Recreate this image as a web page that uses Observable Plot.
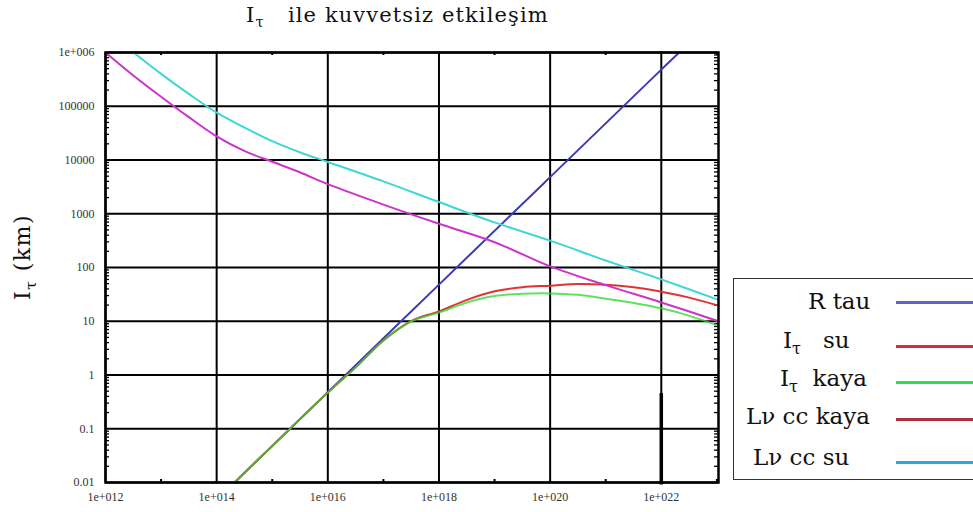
<!DOCTYPE html>
<html>
<head>
<meta charset="utf-8">
<script src="https://cdn.jsdelivr.net/npm/d3@7"></script>
<script src="https://cdn.jsdelivr.net/npm/@observablehq/plot@0.6"></script>
<style>
  html, body { margin: 0; padding: 0; background: #fff; }
  #wrap { position: relative; width: 973px; height: 512px; overflow: hidden; font-family: "DejaVu Serif", serif; color: #111; }
  #chart { position: absolute; left: 0; top: 0; }
  #title { position: absolute; left: 246px; top: 3px; font-size: 21px; letter-spacing: 1.1px; white-space: pre; }
  #ylabel { position: absolute; left: 25px; top: 257px; font-size: 22px; letter-spacing: 1.5px; white-space: pre;
            transform: translate(-50%, -50%) rotate(-90deg); transform-origin: center; }
  sub { font-size: 70%; vertical-align: -0.35em; }
  #legend { position: absolute; left: 733px; top: 278px; width: 260px; height: 202px;
            border: 1.5px solid #333; box-sizing: border-box; }
  .lg-text { position: absolute; font-size: 23px; white-space: pre; line-height: 1; }
  .lg-line { position: absolute; left: 162px; width: 100px; height: 3px; }
</style>
</head>
<body>
<div id="wrap">
  <div id="chart"></div>
  <div id="title">I<sub>τ</sub>   ile kuvvetsiz etkileşim</div>
  <div id="ylabel">I<sub>τ</sub> (km)</div>
  <div id="legend"></div>
</div>
<script>
// Axis ticks and their printed labels
const xTicks = [1e12, 1e14, 1e16, 1e18, 1e20, 1e22];
const xTickLabels = ["1e+012", "1e+014", "1e+016", "1e+018", "1e+020", "1e+022"];
const yTicks = [0.01, 0.1, 1, 10, 100, 1000, 10000, 100000, 1e6];
const yTickLabels = ["0.01", "0.1", "1", "10", "100", "1000", "10000", "100000", "1e+006"];

// R tau (km) versus energy
const rTauE = [2.1e14, 1e16, 1e18, 1e20, 1e22, 2.1e22];
const rTauV = [0.01, 0.48, 48, 4800, 480000, 1e6];

// I_tau in water
const iSuE = [2.1e14, 1e15, 1e16, 3.2e16, 1e17, 3.2e17, 1e18, 3.2e18, 1e19, 3.2e19, 1e20, 3.2e20, 1e21, 3.2e21, 1e22, 3.2e22, 1.07e23];
const iSuV = [0.01, 0.048, 0.47, 1.4, 4.4, 10.2, 15.3, 25, 36, 43, 46, 49.5, 48, 43, 35.5, 27.5, 19.5];

// I_tau in rock
const iKayaE = [2.1e14, 1e15, 1e16, 3.2e16, 1e17, 3.2e17, 1e18, 3.2e18, 1e19, 3.2e19, 1e20, 3.2e20, 1e21, 3.2e21, 1e22, 3.2e22, 1.07e23];
const iKayaV = [0.01, 0.048, 0.47, 1.4, 4.4, 10, 14.5, 22.4, 29.5, 32.4, 33, 31, 26.3, 21.9, 17.4, 12.6, 8.3];

// Neutrino CC interaction length in rock
const lvKayaE = [1e12, 3.2e12, 1e13, 3.2e13, 1e14, 3.2e14, 1e15, 3.2e15, 1e16, 1e17, 1e18, 1e19, 1e20, 1e21, 1e22, 1.07e23];
const lvKayaV = [1e6, 370000, 150000, 62000, 27500, 14600, 9300, 5850, 3550, 1480, 650, 295, 105, 47, 22.4, 10];

// Neutrino CC interaction length in water
const lvSuE = [3.2e12, 1e13, 3.2e13, 1e14, 3.2e14, 1e15, 3.2e15, 1e16, 1e17, 1e18, 1e19, 1e20, 1e21, 1e22, 1.07e23];
const lvSuV = [1e6, 400000, 168000, 76000, 40000, 22400, 13800, 9200, 4000, 1650, 690, 316, 135, 60, 25];

// Thin vertical spike drawn at 1e22
const spikeE = [1e22];
const spikeTop = [0.45];

const toRows = (xs, ys) => xs.map((x, i) => ({x, y: ys[i]}));

// Minor tick positions (2..9 within each decade, odd decades on x)
const yMinor = [];
for (let d = -2; d < 6; d++) for (let k = 2; k <= 9; k++) yMinor.push(k * Math.pow(10, d));
const xMinor = [1e13, 1e15, 1e17, 1e19, 1e21, 1e23];

const xLabel = new Map(xTicks.map((t, i) => [t, xTickLabels[i]]));
const yLabel = new Map(yTicks.map((t, i) => [t, yTickLabels[i]]));

const W = 730, H = 512, ML = 105, MR = 12, MT = 52, MB = 30;
const innerW = W - ML - MR, innerH = H - MT - MB;
const tickLen = 4;

const lineStyle = {x: "x", y: "y", strokeWidth: 2, curve: "catmull-rom"};

const chart = Plot.plot({
  width: W,
  height: H,
  marginLeft: ML,
  marginRight: MR,
  marginTop: MT,
  marginBottom: MB,
  x: {type: "log", domain: [1e12, 1.07e23]},
  y: {type: "log", domain: [0.01, 1e6]},
  style: {fontFamily: "'Liberation Serif', serif", fontSize: "12px", color: "#333", background: "transparent"},
  marks: [
    Plot.gridX(xTicks, {stroke: "#000", strokeOpacity: 1, strokeWidth: 2}),
    Plot.gridY(yTicks, {stroke: "#000", strokeOpacity: 1, strokeWidth: 2}),
    // inward minor ticks along the four sides
    Plot.tickY(yMinor, {y: d => d, insetRight: innerW - tickLen, stroke: "#000", strokeWidth: 1.3}),
    Plot.tickY(yMinor, {y: d => d, insetLeft: innerW - tickLen, stroke: "#000", strokeWidth: 1.3}),
    Plot.tickX(xMinor, {x: d => d, insetTop: innerH - 3, stroke: "#000", strokeWidth: 2}),
    Plot.tickX(xMinor, {x: d => d, insetBottom: innerH - 3, stroke: "#000", strokeWidth: 2}),
    Plot.axisX(xTicks, {anchor: "bottom", tickSize: 0, tickPadding: 10, tickFormat: d => xLabel.get(d), label: null}),
    Plot.axisY(yTicks, {anchor: "left", tickSize: 0, tickPadding: 11, tickFormat: d => yLabel.get(d), label: null}),
    Plot.ruleX(spikeE, {x: d => d, y1: 0.009, y2: (d, i) => spikeTop[i], stroke: "#000", strokeWidth: 3.5}),
    Plot.line(toRows(rTauE, rTauV), {...lineStyle, stroke: "#3b3bb8"}),
    Plot.line(toRows(iSuE, iSuV), {...lineStyle, stroke: "#e03434"}),
    Plot.line(toRows(iKayaE, iKayaV), {...lineStyle, stroke: "#2ed62e", strokeOpacity: 0.75}),
    Plot.line(toRows(lvKayaE, lvKayaV), {...lineStyle, stroke: "#cc33cc"}),
    Plot.line(toRows(lvSuE, lvSuV), {...lineStyle, stroke: "#3ed6d6"}),
    Plot.frame({stroke: "#000", strokeWidth: 2.5})
  ]
});
document.getElementById("chart").appendChild(chart);

// Legend entries: label (HTML), swatch colour, text left / top, swatch top
const legendLabels = ["R tau", "I<sub>τ</sub>   su", "I<sub>τ</sub>  kaya", "Lν cc kaya", "Lν cc su"];
const legendColors = ["#5a66c8", "#dd2b3c", "#2ee04a", "#a8323c", "#2aa8dc"];
const legendTextLeft = [74, 49, 46, 12, 19];
const legendTextTop = [11, 50, 88, 126, 167];
const legendLineTop = [22, 66, 102, 139, 182];
const legend = document.getElementById("legend");
legendLabels.forEach((lab, i) => {
  const t = document.createElement("div");
  t.className = "lg-text";
  t.style.left = legendTextLeft[i] + "px";
  t.style.top = legendTextTop[i] + "px";
  t.innerHTML = lab;
  legend.appendChild(t);
  const l = document.createElement("div");
  l.className = "lg-line";
  l.style.top = legendLineTop[i] + "px";
  l.style.background = legendColors[i];
  legend.appendChild(l);
});
</script>
</body>
</html>
